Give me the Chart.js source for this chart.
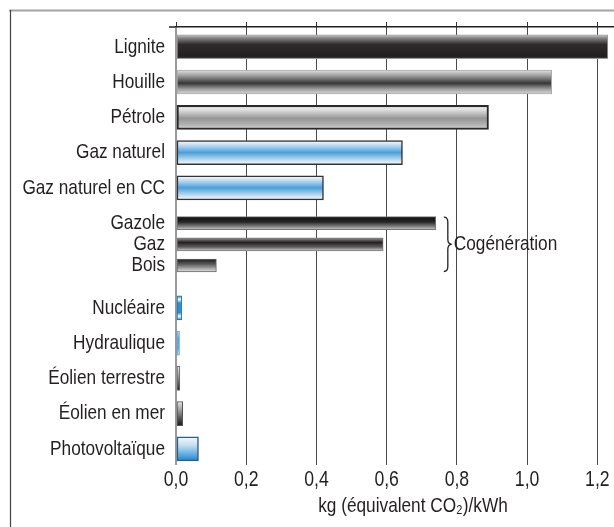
<!DOCTYPE html>
<html><head><meta charset="utf-8">
<script src="https://cdn.jsdelivr.net/npm/chart.js@4.4.1/dist/chart.umd.min.js"></script>
<style>html,body{margin:0;padding:0;background:#fff;overflow:hidden;width:614px;height:527px}#c{display:block}</style>
</head><body><canvas id="c" width="650" height="527"></canvas>
<script>
// ---- data ----
const categories = ['Lignite','Houille','Pétrole','Gaz naturel','Gaz naturel en CC','Gazole','Gaz','Bois','Nucléaire','Hydraulique','Éolien terrestre','Éolien en mer','Photovoltaïque'];
const emissions = [1.23, 1.07, 0.89, 0.645, 0.42, 0.74, 0.59, 0.115, 0.016, 0.010, 0.011, 0.019, 0.064];
const cogeneration = [false,false,false,false,false,true,true,true,false,false,false,false,false];
const tickValues = [0, 0.2, 0.4, 0.6, 0.8, 1.0, 1.2];
const groupLabel = 'Cogénération';
const axisTitle = 'kg (équivalent CO₂)/kWh';

// ---- styles ----
const barStyles = ['lignite','houille','petrole','gaz','gaz','gazole','gazcog','bois','nucl','hydro','eolt','eolm','pv'];
const STY = {
  lignite:{stops:[[0,'#d6d6d6'],[0.12,'#8c8c8c'],[0.4,'#2f2b2c'],[0.9,'#231f20'],[1,'#444']],border:'#9a9a9a',bw:1},
  houille:{stops:[[0,'#e2e2e2'],[0.25,'#9a9a9a'],[0.55,'#363636'],[0.8,'#a0a0a0'],[1,'#dcdcdc']],border:'#aaa',bw:1},
  petrole:{stops:[[0,'#c8c8c8'],[0.15,'#e6e6e6'],[0.55,'#959595'],[0.85,'#b8b8b8'],[1,'#e8e8e8']],border:'#2a2a2a',bw:2},
  gaz:{stops:[[0,'#ffffff'],[0.25,'#a9d0ee'],[0.5,'#4a9fd8'],[0.75,'#a9d0ee'],[1,'#ffffff']],border:'#333',bw:1.5},
  gazole:{stops:[[0,'#111'],[0.4,'#262324'],[0.8,'#8a8a8a'],[1,'#cfcfcf']],border:'#777',bw:1},
  gazcog:{stops:[[0,'#9a9a9a'],[0.35,'#231f20'],[0.7,'#5a5a5a'],[1,'#d0d0d0']],border:'#777',bw:1},
  bois:{stops:[[0,'#1a1a1a'],[0.4,'#5a5a5a'],[1,'#e4e4e4']],border:'#666',bw:1},
  nucl:{stops:[[0,'#2a8fd6'],[0.15,'#ffffff'],[0.3,'#2a8fd6'],[0.7,'#2a8fd6'],[0.85,'#ffffff'],[1,'#2a8fd6']],border:'#1d6ea8',bw:1},
  hydro:{stops:[[0,'#cfe4f5'],[0.3,'#5aa8e0'],[0.7,'#5aa8e0'],[1,'#cfe4f5']],border:'#5aa8e0',bw:1},
  eolt:{stops:[[0,'#f0f0f0'],[0.5,'#8a8a8a'],[1,'#1f1f1f']],border:'#666',bw:1},
  eolm:{stops:[[0,'#e6e6e6'],[0.45,'#8a8a8a'],[1,'#151515']],border:'#555',bw:1},
  pv:{stops:[[0,'#f4f8fc'],[0.35,'#c4def2'],[1,'#1a88d0']],border:'#2a5f8a',bw:1.5}
};
const TXT = '#231f20';
const FONT = "'Liberation Sans',Arial,sans-serif";
const FS = 21;
const CONDENSE = 0.82; // narrow (condensed) lettering, as in the original

// row positions: regular step 1, grouped items closer together
const rows = [];
let pos = 0;
categories.forEach((c, i) => {
  if (i > 0) {
    const a = cogeneration[i-1], b = cogeneration[i];
    pos += (a && b) ? 0.6 : (a && !b) ? 1.2 : 1;
  }
  rows.push(pos);
});
const mainData = [], cogData = [];
categories.forEach((c, i) => {
  (cogeneration[i] ? cogData : mainData).push({x: emissions[i], y: rows[i], i: i});
});

function fill(ctx) {
  const chart = ctx.chart, y = chart.scales.y;
  if (!y || ctx.type !== 'data' || !ctx.raw) return '#333';
  const st = STY[barStyles[ctx.raw.i]];
  const c = y.getPixelForValue(ctx.raw.y), h = ctx.dataset.barThickness;
  if (!isFinite(c) || !isFinite(h)) return st.stops[Math.floor(st.stops.length/2)][1];
  const g = chart.ctx.createLinearGradient(0, c - h/2, 0, c + h/2);
  st.stops.forEach(s => g.addColorStop(s[0], s[1]));
  return g;
}
const bcol = ctx => (ctx.raw ? STY[barStyles[ctx.raw.i]].border : '#333');
const bw = ctx => (ctx.raw ? STY[barStyles[ctx.raw.i]].bw : 1);

const frame = {
  id: 'frame',
  beforeDraw(chart) {
    const c = chart.ctx;
    c.save();
    c.strokeStyle = '#a3a3a3'; c.lineWidth = 2;
    c.beginPath(); c.moveTo(9, 10.5); c.lineTo(chart.width, 10.5); c.stroke();
    c.strokeStyle = '#444'; c.lineWidth = 1.2;
    c.beginPath(); c.moveTo(10.5, 10); c.lineTo(10.5, chart.height); c.stroke();
    const a = chart.chartArea;
    c.strokeStyle = '#231f20'; c.lineWidth = 1.5;
    c.beginPath(); c.moveTo(a.left - 7, a.top); c.lineTo(a.left, a.top); c.stroke();
    c.restore();
  }
};
const brace = {
  id: 'brace',
  afterDatasetsDraw(chart) {
    const {ctx, scales: {x, y}} = chart;
    const idx = categories.map((c, i) => i).filter(i => cogeneration[i]);
    const top = y.getPixelForValue(rows[idx[0]]) - 6;
    const bot = y.getPixelForValue(rows[idx[idx.length - 1]]) + 6;
    const mid = (top + bot) / 2;
    const maxV = Math.max(...idx.map(i => emissions[i]));
    const bx = x.getPixelForValue(maxV) + 8;
    ctx.save();
    ctx.strokeStyle = TXT; ctx.lineWidth = 1.3;
    ctx.beginPath();
    ctx.moveTo(bx, top);
    ctx.quadraticCurveTo(bx + 4, top, bx + 4, top + 5);
    ctx.lineTo(bx + 4, mid - 5);
    ctx.quadraticCurveTo(bx + 4, mid, bx + 8, mid);
    ctx.quadraticCurveTo(bx + 4, mid, bx + 4, mid + 5);
    ctx.lineTo(bx + 4, bot - 5);
    ctx.quadraticCurveTo(bx + 4, bot, bx, bot);
    ctx.stroke();
    ctx.fillStyle = TXT;
    ctx.font = FS + 'px ' + FONT;
    ctx.textBaseline = 'middle';
    ctx.textAlign = 'left';
    ctx.fillText(groupLabel, bx + 10, mid);
    ctx.restore();
  }
};

const canvas = document.getElementById('c');
const cx = canvas.getContext('2d');
const origFillText = cx.fillText;
cx.fillText = function (t, x, y, mw) {
  const w = this.measureText(t).width * CONDENSE;
  return origFillText.call(this, t, x, y, mw !== undefined && mw !== null ? Math.min(mw, w) : w);
};

const setTicks = s => { s.ticks = tickValues.map(v => ({value: v})); };

new Chart(canvas, {
  type: 'bar',
  data: {
    datasets: [
      {data: mainData, barThickness: 24, backgroundColor: fill, borderColor: bcol, borderWidth: bw, borderSkipped: false},
      {data: cogData, barThickness: 13, backgroundColor: fill, borderColor: bcol, borderWidth: bw, borderSkipped: false}
    ]
  },
  options: {
    indexAxis: 'y',
    responsive: false,
    animation: false,
    grouped: false,
    layout: {padding: 0},
    plugins: {legend: {display: false}, tooltip: {enabled: false}},
    scales: {
      y: {
        type: 'linear', reverse: true, offset: false, min: -0.56, max: 11.77,
        afterBuildTicks: s => { s.ticks = rows.map(v => ({value: v})); },
        afterFit: s => { s.width = 176; },
        ticks: {autoSkip: false, padding: 11, color: TXT, font: {family: FONT, size: FS},
                callback: (v, i) => categories[i]},
        grid: {display: false, drawTicks: false},
        border: {display: true, color: '#9a9a9a', width: 2}
      },
      x: {
        type: 'linear', position: 'bottom', min: 0, max: 1.35,
        afterBuildTicks: setTicks,
        afterFit: s => { s.height = 65; },
        ticks: {color: TXT, padding: 2, font: {family: FONT, size: FS + 0.5},
                callback: v => v.toFixed(1).replace('.', ',')},
        grid: {color: c => c.index === 0 ? '#9a9a9a' : '#4a4a4a',
               lineWidth: c => c.index === 0 ? 2 : 1, tickLength: 3},
        border: {display: false},
        title: {display: true, text: axisTitle, color: TXT, font: {family: FONT, size: FS},
                padding: {top: 2, bottom: 8}}
      },
      xTop: {
        type: 'linear', position: 'top', min: 0, max: 1.35,
        afterBuildTicks: setTicks,
        afterFit: s => { s.height = 27; },
        ticks: {display: false},
        grid: {drawOnChartArea: false, tickLength: 5, color: '#333'},
        border: {display: true, color: '#231f20', width: 1.5}
      }
    }
  },
  plugins: [frame, brace]
});
</script></body></html>
